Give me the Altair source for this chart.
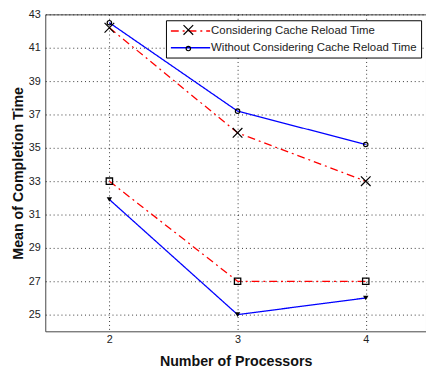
import altair as alt
import pandas as pd

procs = [2, 3, 4]
cons_upper = [42.2, 35.9, 33.0]
without_upper = [42.5, 37.2, 35.2]
cons_lower = [33.0, 27.0, 27.0]
without_lower = [31.9, 25.0, 26.0]

m_cons = "Considering Cache Reload Time"
m_without = "Without Considering Cache Reload Time"

rows = []
for series, method, group, marker in [
    (cons_upper, m_cons, "cu", "x"),
    (without_upper, m_without, "wu", "o"),
    (cons_lower, m_cons, "cl", "sq"),
    (without_lower, m_without, "wl", "tri"),
]:
    for p, v in zip(procs, series):
        rows.append({"proc": p, "value": v, "method": method, "group": group, "marker": marker})
df = pd.DataFrame(rows)

xs = alt.Scale(domain=[1.5, 4.47], nice=False, zero=False)
ys = alt.Scale(domain=[24, 43], nice=False, zero=False)

xenc = alt.X("proc:Q", scale=xs, title="Number of Processors",
             axis=alt.Axis(values=procs, format="d"))
yenc = alt.Y("value:Q", scale=ys, title="Mean of Completion Time",
             axis=alt.Axis(values=[25, 27, 29, 31, 33, 35, 37, 39, 41, 43]))

X_PATH = "M-2.2,-2.2L2.2,2.2M-2.2,2.2L2.2,-2.2"

lines = alt.Chart(df).mark_line(strokeWidth=1.3, clip=True).encode(
    x=xenc, y=yenc,
    color=alt.Color("method:N", scale=alt.Scale(domain=[m_cons, m_without], range=["#ff0000", "#0000ff"]),
                    legend=alt.Legend(title=None, orient="none", legendX=123, legendY=6, zindex=0,
                                      symbolType="M-1,0H5.67", symbolSize=144, symbolStrokeWidth=1.5,
                                      labelFont="Liberation Sans", labelFontSize=11.6, labelColor="#222",
                                      labelOffset=28, strokeColor="#000", fillColor="#fff", padding=4,
                                      rowPadding=4, labelLimit=400)),
    strokeDash=alt.StrokeDash("method:N", scale=alt.Scale(domain=[m_cons, m_without], range=[[8, 4, 2, 4], [1, 0]])),
    detail="group:N",
)

upper_pts = alt.Chart(df).transform_filter(
    alt.FieldOneOfPredicate(field="marker", oneOf=["x", "o"])
).mark_point(filled=False, color="#000", strokeWidth=1.2, opacity=1, size=20).encode(
    x=xenc, y=yenc,
    shape=alt.Shape("marker:N", scale=alt.Scale(domain=["x", "o"], range=[X_PATH, "circle"]),
                    legend=alt.Legend(title=None, orient="none", legendX=136, legendY=6, zindex=1,
                                      symbolSize=20, symbolStrokeColor="#000", symbolStrokeWidth=1.2,
                                      labelFont="Liberation Sans", labelFontSize=11.6, labelColor="transparent",
                                      labelOffset=4, padding=4, rowPadding=4, labelLimit=20,
                                      labelExpr="''")),
)

sq_pts = alt.Chart(df).transform_filter(alt.datum.marker == "sq").mark_point(
    shape="square", filled=False, color="#000", strokeWidth=1.3, opacity=1, size=42
).encode(x=xenc, y=yenc)

tri_pts = alt.Chart(df).transform_filter(alt.datum.marker == "tri").mark_point(
    shape="triangle-down", filled=True, color="#000", opacity=1, size=30
).encode(x=xenc, y=yenc)

chart = alt.layer(lines, upper_pts, sq_pts, tri_pts).properties(
    width=388, height=323,
    autosize=alt.AutoSizeParams(type="none"),
    padding={"left": 38, "top": 3, "right": 0, "bottom": 40},
).configure_view(stroke="#444", strokeWidth=1).configure_axis(
    grid=True, gridColor="#000", gridDash=[1, 3], gridOpacity=0.8, gridWidth=1,
    domain=False, ticks=False,
    labelFont="Liberation Sans", labelFontSize=11, labelColor="#222",
    titleFont="Liberation Sans", titleFontSize=14.5, titleFontWeight="bold", titleColor="#111",
).configure_axisX(labelPadding=2, titlePadding=11).configure_axisY(labelPadding=5, titlePadding=3)

chart.save("out.html", embed_options={"renderer": "svg", "actions": False})
